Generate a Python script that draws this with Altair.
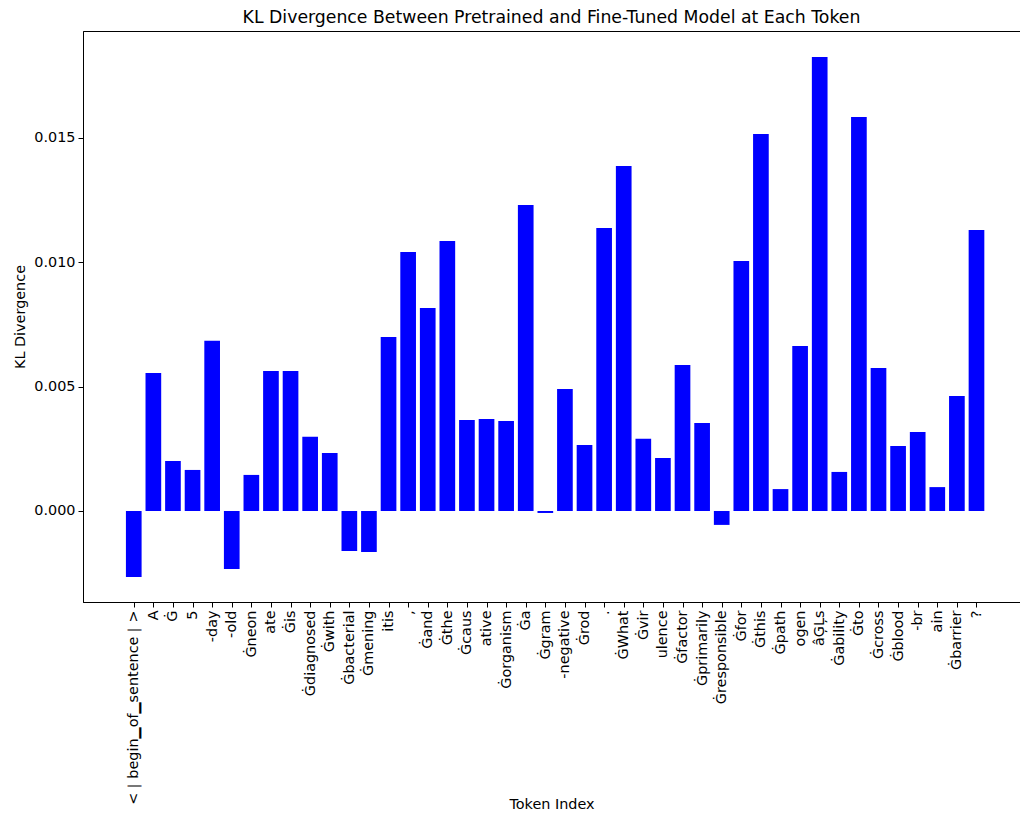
import json
import altair as alt
import pandas as pd

tokens = [
    "<｜begin▁of▁sentence｜>", "A", "Ġ", "5", "-day", "-old", "Ġneon", "ate", "Ġis",
    "Ġdiagnosed", "Ġwith", "Ġbacterial", "Ġmening", "itis", ",", "Ġand", "Ġthe",
    "Ġcaus", "ative", "Ġorganism", "Ġa", "Ġgram", "-negative", "Ġrod", ".", "ĠWhat",
    "Ġvir", "ulence", "Ġfactor", "Ġprimarily", "Ġresponsible", "Ġfor", "Ġthis",
    "Ġpath", "ogen", "âĢĻs", "Ġability", "Ġto", "Ġcross", "Ġblood", "-br", "ain",
    "Ġbarrier", "?",
]
kl_values = [
    -0.00265, 0.00555, 0.00201, 0.00165, 0.00684, -0.00233, 0.00145, 0.00563, 0.00563,
    0.00298, 0.00233, -0.00161, -0.00165, 0.00700, 0.01041, 0.00816, 0.01086,
    0.00366, 0.00370, 0.00362, 0.01230, -0.00008, 0.00490, 0.00265, 0.01138, 0.01387,
    0.00290, 0.00213, 0.00587, 0.00354, -0.00056, 0.01005, 0.01516,
    0.00088, 0.00663, 0.01825, 0.00157, 0.01584, 0.00575, 0.00261, 0.00318, 0.00096,
    0.00462, 0.01130,
]
y_ticks = [0.0, 0.005, 0.010, 0.015]

n = len(tokens)
df = pd.DataFrame({"idx": list(range(n)), "token": tokens, "kl": kl_values})

FONT = "DejaVu Sans"
label_expr = json.dumps(tokens, ensure_ascii=False) + "[datum.value]"

chart = (
    alt.Chart(df)
    .transform_calculate(x0="datum.idx - 0.4", x1="datum.idx + 0.4", base="0")
    .mark_bar(color="#0000ff")
    .encode(
        x=alt.X(
            "x0:Q",
            title="Token Index",
            scale=alt.Scale(domain=[-2.59, 45.22], nice=False, zero=False),
            axis=alt.Axis(
                values=list(range(n)), labelExpr=label_expr, labelAngle=270,
                labelPadding=3, labelOverlap=False, labelFlush=False, labelLimit=400,
                titleY=195, titleBaseline="top",
            ),
        ),
        x2="x1:Q",
        y=alt.Y(
            "kl:Q",
            title="KL Divergence",
            scale=alt.Scale(domain=[-0.00366, 0.0193], nice=False, zero=False),
            axis=alt.Axis(values=y_ticks, format=".3f", labelPadding=3, titlePadding=6),
        ),
        y2="base:Q",
    )
    .properties(
        width=937,
        height=571,
        title=alt.TitleParams(
            "KL Divergence Between Pretrained and Fine-Tuned Model at Each Token",
            font=FONT, fontSize=17.3, fontWeight="normal", color="black", offset=5,
        ),
        padding={"left": 4, "top": 0, "right": 0, "bottom": 0},
    )
    .configure_view(stroke="black", strokeWidth=1)
    .configure_axis(
        labelFont=FONT, labelFontSize=14.4, labelColor="black",
        titleFont=FONT, titleFontSize=14.4, titleFontWeight="normal", titleColor="black",
        domainColor="black", tickColor="black", tickSize=5, grid=False,
    )
)

chart.save("out.html", embed_options={"renderer": "svg", "actions": False})
